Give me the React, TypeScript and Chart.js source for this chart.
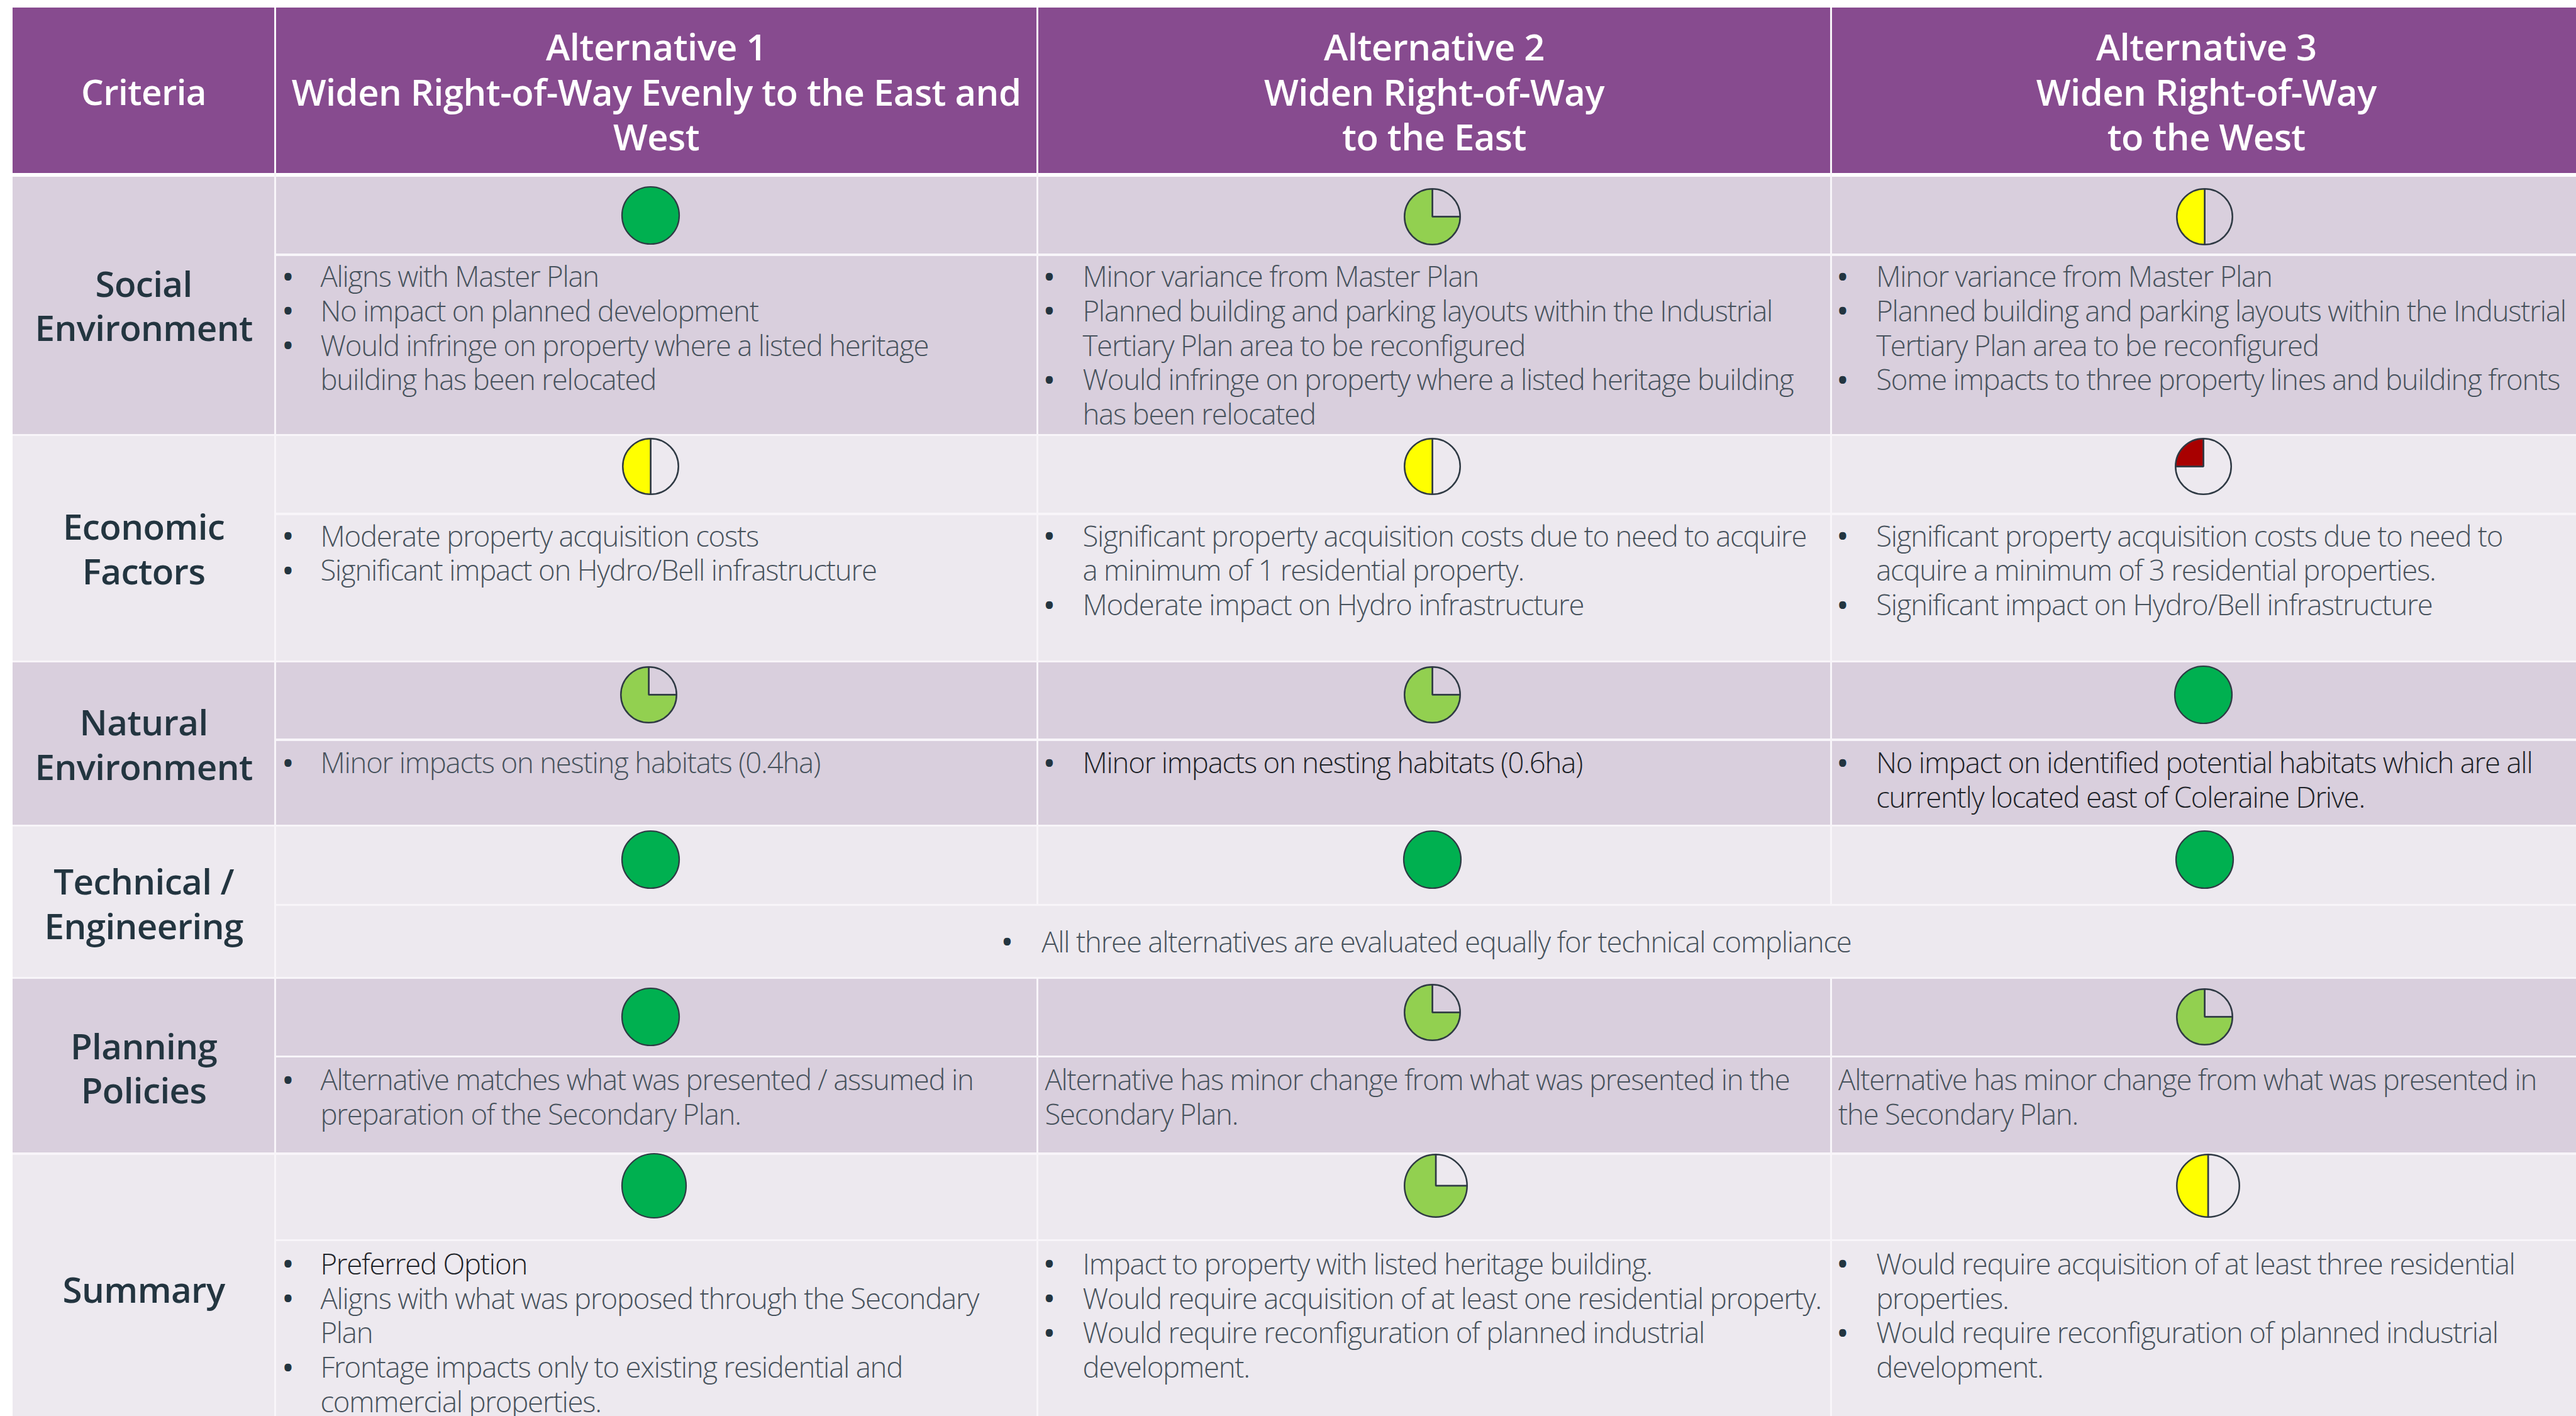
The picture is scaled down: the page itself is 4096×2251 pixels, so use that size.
import React, { useEffect, useRef } from "react";
import { Chart, registerables } from "chart.js";

Chart.register(...registerables);

// ---------- content ----------
const headers = [
  ["Criteria"],
  ["Alternative 1", "Widen Right-of-Way Evenly to the East and", "West"],
  ["Alternative 2", "Widen Right-of-Way", "to the East"],
  ["Alternative 3", "Widen Right-of-Way", "to the West"],
];
const criteria = [
  ["Social", "Environment"],
  ["Economic", "Factors"],
  ["Natural", "Environment"],
  ["Technical /", "Engineering"],
  ["Planning", "Policies"],
  ["Summary"],
];
// "* " opens a bullet, "! " opens a darker bullet, anything else continues or is unbulleted
const socialCells = [
  ["* Aligns with Master Plan", "* No impact on planned development", "* Would infringe on property where a listed heritage", "building has been relocated"],
  ["* Minor variance from Master Plan", "* Planned building and parking layouts within the Industrial", "Tertiary Plan area to be reconfigured", "* Would infringe on property where a listed heritage building", "has been relocated"],
  ["* Minor variance from Master Plan", "* Planned building and parking layouts within the Industrial", "Tertiary Plan area to be reconfigured", "* Some impacts to three property lines and building fronts"],
];
const economicCells = [
  ["* Moderate property acquisition costs", "* Significant impact on Hydro/Bell infrastructure"],
  ["* Significant property acquisition costs due to need to acquire", "a minimum of 1 residential property.", "* Moderate impact on Hydro infrastructure"],
  ["* Significant property acquisition costs due to need to", "acquire a minimum of 3 residential properties.", "* Significant impact on Hydro/Bell infrastructure"],
];
const naturalCells = [
  ["* Minor impacts on nesting habitats (0.4ha)"],
  ["! Minor impacts on nesting habitats (0.6ha)"],
  ["! No impact on identified potential habitats which are all", "currently located east of Coleraine Drive."],
];
const technicalNote = "All three alternatives are evaluated equally for technical compliance";
const planningCells = [
  ["* Alternative matches what was presented / assumed in", "preparation of the Secondary Plan."],
  ["Alternative has minor change from what was presented in the", "Secondary Plan."],
  ["Alternative has minor change from what was presented in", "the Secondary Plan."],
];
const summaryCells = [
  ["! Preferred Option", "* Aligns with what was proposed through the Secondary", "Plan", "* Frontage impacts only to existing residential and", "commercial properties."],
  ["* Impact to property with listed heritage building.", "* Would require acquisition of at least one residential property.", "* Would require reconfiguration of planned industrial", "development."],
  ["* Would require acquisition of at least three residential", "properties.", "* Would require reconfiguration of planned industrial", "development."],
];

// Harvey-ball scores (percent filled), one list per criterion
const scoresSocial = [100, 75, 50];
const scoresEconomic = [50, 50, 25];
const scoresNatural = [75, 75, 100];
const scoresTechnical = [100, 100, 100];
const scoresPlanning = [100, 75, 75];
const scoresSummary = [100, 75, 50];
const scores = [scoresSocial, scoresEconomic, scoresNatural, scoresTechnical, scoresPlanning, scoresSummary];

const scoreColor: Record<number, string> = { 100: "#00B050", 75: "#92D050", 50: "#FFFF00", 25: "#A80000" };

// ---------- layout, in the 1568-wide units of the reference preview ----------
const U = 4096 / 1568;
const u = (v: number) => v * U;

const colX = [7.6, 167.6, 631.5, 1114.6, 1568];
const rowTop = [107.5, 264.6, 402.5, 502.4, 595.1, 702.1];
const rowBottom = [264.6, 402.5, 502.4, 595.1, 702.1, 862];
const ballLine = [155, 312.8, 450.2, 550.7, 643, 754.8];
const headerTop = 4.7;
const headerBottom = 105.2;
const rowFill = ["#D9CFDD", "#EDE9EF", "#D9CFDD", "#EDE9EF", "#D9CFDD", "#EDE9EF"];
const ruleColor = "#F8F5F9";
const ballCx = [
  [396, 872, 1342],
  [396, 872, 1341],
  [395, 872, 1341],
  [396, 872, 1342],
  [396, 872, 1342],
  [398, 874, 1344],
];
const ballCy = [
  [131, 132, 132],
  [284, 284, 284],
  [423, 423, 423],
  [523, 523, 523],
  [619, 616, 619],
  [721.5, 721.5, 721.5],
];
const ballD = [35, 35, 35, 35, 35, 39];
const textTop = [167.6, 325.6, 463.6, 572.6, 656.6, 768.6];
const pitch = 21;
const bulletX = [175.3, 638.7, 1121.6];
const textX = [195, 659, 1142];
const plainX = [195, 636, 1119];
const headerCx = [87.5, 399.5, 873, 1343];
const headerY = [28.2, 55.7, 82.9];
const criteriaHeadY = 56;
const criteriaCx = 87.5;
const criteriaY = [[172.5, 199.6], [320.5, 347.6], [439.5, 466.6], [536.5, 563.6], [636.5, 663.6], [784.7]];

const BODY_FONT = '"Open Sans", sans-serif';
const BODY_SIZE = 45.5;
const BODY_SPACING = -1.22;
const BODY_COLOR = "#47525C";
const DARK_COLOR = "#1E2328";
const HEAD_SIZE = 58;
const HEAD_SPACING = -0.55;
const LABEL_SIZE = 56.5;
const LABEL_SPACING = -0.6;
const LABEL_COLOR = "#233540";
const BULLET_SIZE = 46;

function Line(props: { x: number; y: number; text: string; color: string; size: number; weight: number; spacing: number; center?: boolean }) {
  const h = props.size * 1.1;
  const st: React.CSSProperties = {
    position: "absolute",
    left: u(props.x),
    top: u(props.y) - h / 2,
    height: h,
    lineHeight: `${h}px`,
    fontFamily: BODY_FONT,
    fontSize: props.size,
    fontWeight: props.weight,
    letterSpacing: props.spacing,
    color: props.color,
    whiteSpace: "nowrap",
    transform: props.center ? "translateX(-50%)" : undefined,
  };
  return <div style={st}>{props.text}</div>;
}

function Rect(props: { x0: number; y0: number; x1: number; y1: number; fill: string }) {
  return (
    <div
      style={{
        position: "absolute",
        left: u(props.x0),
        top: u(props.y0),
        width: u(props.x1 - props.x0),
        height: u(props.y1 - props.y0),
        background: props.fill,
      }}
    />
  );
}

const BALL_EDGE = "#2F3A44";
const outlinePlugin = {
  id: "fullBallOutline",
  afterDatasetsDraw(chart: any) {
    const arcs = chart.getDatasetMeta(0).data;
    const arc = arcs[arcs.length - 1];
    const ctx = chart.ctx;
    ctx.save();
    ctx.strokeStyle = BALL_EDGE;
    ctx.lineWidth = 2.2;
    ctx.beginPath();
    ctx.arc(arc.x, arc.y, arc.outerRadius, 0, Math.PI * 2);
    ctx.stroke();
    ctx.restore();
  },
};

function Ball(props: { score: number; cx: number; cy: number; d: number }) {
  const ref = useRef<HTMLCanvasElement>(null);
  const size = Math.round(u(props.d)) + 8;
  useEffect(() => {
    const full = props.score === 100;
    const chart = new Chart(ref.current!, {
      type: "pie",
      data: {
        labels: ["Open", "Filled"],
        datasets: [
          {
            data: [100 - props.score, props.score],
            backgroundColor: ["rgba(0,0,0,0)", scoreColor[props.score]],
            borderColor: BALL_EDGE,
            borderWidth: full ? 0 : 2.5,
          },
        ],
      },
      options: {
        animation: false,
        responsive: false,
        layout: { padding: 4 },
        plugins: { legend: { display: false }, tooltip: { enabled: false } },
      },
      plugins: full ? [outlinePlugin] : [],
    });
    return () => chart.destroy();
  }, [props.score]);
  return (
    <canvas
      ref={ref}
      width={size}
      height={size}
      style={{ position: "absolute", left: u(props.cx) - size / 2, top: u(props.cy) - size / 2, width: size, height: size }}
    />
  );
}

function CellText(props: { lines: string[]; col: number; row: number }) {
  const out: React.ReactNode[] = [];
  const hasBullets = props.lines.some((l) => l.startsWith("* ") || l.startsWith("! "));
  let dark = false;
  props.lines.forEach((raw, i) => {
    const y = textTop[props.row] + i * pitch;
    const m = raw.slice(0, 2);
    const isBullet = m === "* " || m === "! ";
    if (isBullet) dark = m === "! ";
    const text = isBullet ? raw.slice(2) : raw;
    const x = hasBullets ? textX[props.col] : plainX[props.col];
    if (isBullet) {
      out.push(<Line key={`b${i}`} x={bulletX[props.col]} y={y} text="•" color={LABEL_COLOR} size={BULLET_SIZE} weight={600} spacing={0} center />);
    }
    out.push(<Line key={`t${i}`} x={x} y={y} text={text} color={dark ? DARK_COLOR : BODY_COLOR} size={BODY_SIZE} weight={300} spacing={BODY_SPACING} />);
  });
  return <>{out}</>;
}

export default function App() {
  const rowCells = [socialCells, economicCells, naturalCells, null, planningCells, summaryCells];
  const rule = 0.63;
  const vrule = 0.6;
  return (
    <div style={{ position: "absolute", left: 0, top: 0, width: 4096, height: 2251, overflow: "hidden", background: "#fff" }}>
      <Rect x0={colX[0]} y0={headerTop} x1={colX[4]} y1={headerBottom} fill="#874B8F" />
      {rowTop.map((t, r) => (
        <Rect key={r} x0={colX[0]} y0={t} x1={colX[4]} y1={rowBottom[r]} fill={rowFill[r]} />
      ))}
      {/* horizontal rules */}
      {rowTop.slice(1).map((t, r) => (
        <Rect key={`h${r}`} x0={colX[0]} y0={t - rule} x1={colX[4]} y1={t + rule} fill={ruleColor} />
      ))}
      {ballLine.map((y, r) => (
        <Rect key={`l${r}`} x0={colX[1]} y0={y - rule} x1={colX[4]} y1={y + rule} fill={ruleColor} />
      ))}
      {/* vertical rules */}
      <Rect x0={colX[1] - vrule} y0={headerTop} x1={colX[1] + vrule} y1={862} fill={ruleColor} />
      {[colX[2], colX[3]].map((x, i) => (
        <React.Fragment key={`v${i}`}>
          <Rect x0={x - vrule} y0={headerTop} x1={x + vrule} y1={ballLine[3]} fill={ruleColor} />
          <Rect x0={x - vrule} y0={rowTop[4]} x1={x + vrule} y1={862} fill={ruleColor} />
        </React.Fragment>
      ))}

      {headers.map((lines, c) =>
        lines.map((t, i) => (
          <Line
            key={`hd${c}${i}`}
            x={headerCx[c]}
            y={lines.length === 1 ? criteriaHeadY : headerY[i]}
            text={t}
            color="#FFFFFF"
            size={lines.length === 1 ? LABEL_SIZE : HEAD_SIZE}
            weight={600}
            spacing={lines.length === 1 ? LABEL_SPACING : HEAD_SPACING}
            center
          />
        ))
      )}
      {criteria.map((lines, r) =>
        lines.map((t, i) => (
          <Line key={`cr${r}${i}`} x={criteriaCx} y={criteriaY[r][i]} text={t} color={LABEL_COLOR} size={LABEL_SIZE} weight={600} spacing={LABEL_SPACING} center />
        ))
      )}
      {rowCells.map((cells, r) =>
        cells ? cells.map((lines, c) => <CellText key={`c${r}${c}`} lines={lines} col={c} row={r} />) : null
      )}
      <Line x={613} y={textTop[3]} text="•" color={LABEL_COLOR} size={BULLET_SIZE} weight={600} spacing={0} center />
      <Line x={634} y={textTop[3]} text={technicalNote} color={BODY_COLOR} size={BODY_SIZE} weight={300} spacing={BODY_SPACING} />

      {scores.map((row, r) =>
        row.map((s, c) => <Ball key={`${r}-${c}`} score={s} cx={ballCx[r][c]} cy={ballCy[r][c]} d={ballD[r]} />)
      )}
    </div>
  );
}
